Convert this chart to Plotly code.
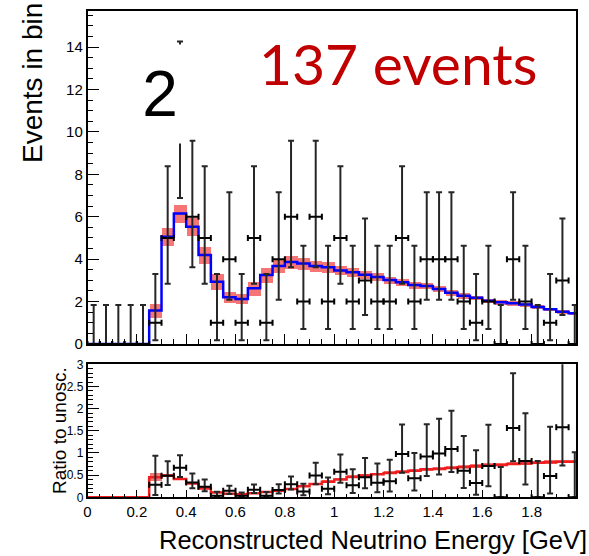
import math
import plotly.graph_objects as go

# Binning: 40 bins of 50 MeV from 0 to 2 GeV
bin_lo = 0.0
bin_width = 0.05
n_bins = 40

# Observed events per bin
counts = [0, 0, 0, 0, 0, 1, 5, 10, 6, 5,
          1, 4, 1, 5, 1, 4, 6, 2, 6, 2,
          5, 2, 3, 2, 2, 5, 2, 4, 4, 4,
          2, 1, 2, 0, 4, 2, 0, 1, 3, 0]

# Oscillated prediction per bin and its systematic half-width
prediction = [0, 0, 0, 0, 0, 1.58, 5.06, 6.16, 5.53, 4.20,
              2.94, 2.20, 2.12, 2.63, 3.25, 3.68, 3.87, 3.80, 3.68, 3.62,
              3.47, 3.38, 3.27, 3.16, 3.02, 2.91, 2.78, 2.74, 2.59, 2.42,
              2.28, 2.18, 2.04, 1.97, 1.92, 1.86, 1.75, 1.64, 1.52, 1.45]
pred_err = [0, 0, 0, 0, 0, 0.34, 0.41, 0.43, 0.43, 0.41,
            0.36, 0.25, 0.24, 0.33, 0.35, 0.32, 0.30, 0.28, 0.26, 0.24,
            0.22, 0.20, 0.19, 0.18, 0.17, 0.16, 0.15, 0.15, 0.14, 0.13,
            0.12, 0.11, 0.11, 0.10, 0.10, 0.09, 0.09, 0.08, 0.08, 0.07]

# Oscillated / unoscillated prediction per bin
osc_ratio = [0, 0, 0, 0, 0, 0.45, 0.49, 0.41, 0.31, 0.20,
             0.11, 0.08, 0.07, 0.09, 0.12, 0.15, 0.19, 0.25, 0.30, 0.35,
             0.40, 0.46, 0.49, 0.52, 0.55, 0.57, 0.60, 0.63, 0.64, 0.66,
             0.68, 0.70, 0.72, 0.73, 0.75, 0.76, 0.78, 0.79, 0.80, 0.80]

x_tick_values = [0, 0.2, 0.4, 0.6, 0.8, 1, 1.2, 1.4, 1.6, 1.8]
x_tick_labels = ["0", "0.2", "0.4", "0.6", "0.8", "1", "1.2", "1.4", "1.6", "1.8"]
ratio_tick_values = [0, 0.5, 1, 1.5, 2, 2.5, 3]
ratio_tick_labels = ["0", "0.5", "1", "1.5", "2", "2.5", "3"]

centers = [bin_lo + bin_width * (i + 0.5) for i in range(n_bins)]
left_edges = [bin_lo + bin_width * i for i in range(n_bins)]


def pois_cdf(k, mu):
    term = math.exp(-mu)
    total = term
    for i in range(1, k + 1):
        term *= mu / i
        total += term
    return total


def solve(f, target, lo, hi):
    # f decreasing in mu
    for _ in range(200):
        mid = 0.5 * (lo + hi)
        if f(mid) > target:
            lo = mid
        else:
            hi = mid
    return 0.5 * (lo + hi)


def garwood(n, cl=0.6827):
    a = 0.5 * (1 - cl)
    up = solve(lambda m: pois_cdf(n, m), a, 0.0, 100.0)
    low = 0.0 if n == 0 else solve(lambda m: pois_cdf(n - 1, m), 1 - a, 0.0, 100.0)
    return low, up


intervals = [garwood(n) for n in counts]
err_hi = [up - n for n, (lo, up) in zip(counts, intervals)]
err_lo = [n - lo for n, (lo, up) in zip(counts, intervals)]

# Ratio quantities relative to the unoscillated prediction
rx, ry, r_hi, r_lo = [], [], [], []
band_base, band_h = [], []
for i in range(n_bins):
    p, r = prediction[i], osc_ratio[i]
    if p > 0 and r > 0:
        unosc = p / r
        rx.append(centers[i])
        ry.append(counts[i] / unosc)
        r_hi.append(err_hi[i] / unosc)
        r_lo.append(err_lo[i] / unosc)
        e = r * pred_err[i] / p
    else:
        e = 0
    band_base.append(r - e)
    band_h.append(2 * e)

step_x = left_edges + [bin_lo + bin_width * n_bins]
step_pred = prediction + [prediction[-1]]
step_ratio = osc_ratio + [osc_ratio[-1]]

BAND = "rgb(246,118,118)"
DATA = "#262626"
FONT = "Liberation Sans, Arial, Helvetica, sans-serif"

fig = go.Figure()

# Upper panel
fig.add_trace(go.Bar(x=centers, y=[2 * e for e in pred_err],
                     base=[p - e for p, e in zip(prediction, pred_err)],
                     width=bin_width, marker=dict(color=BAND, line_width=0),
                     xaxis="x", yaxis="y", hoverinfo="skip"))
fig.add_trace(go.Scatter(x=step_x, y=step_pred, mode="lines",
                         line=dict(color="#0000ff", width=2.5, shape="hv"),
                         xaxis="x", yaxis="y"))
fig.add_trace(go.Scatter(x=centers, y=counts, mode="markers",
                         marker=dict(size=1, color=DATA),
                         error_y=dict(type="data", symmetric=False, array=err_hi,
                                      arrayminus=err_lo, color=DATA, thickness=2, width=3),
                         error_x=dict(type="constant", value=bin_width / 2,
                                      color="black", thickness=2, width=3),
                         xaxis="x", yaxis="y"))

# Lower panel
fig.add_trace(go.Bar(x=centers, y=band_h, base=band_base, width=bin_width,
                     marker=dict(color=BAND, line_width=0),
                     xaxis="x2", yaxis="y2", hoverinfo="skip"))
fig.add_trace(go.Scatter(x=step_x, y=step_ratio, mode="lines",
                         line=dict(color="rgb(240,30,30)", width=2.5, shape="hv"),
                         xaxis="x2", yaxis="y2"))
fig.add_trace(go.Scatter(x=rx, y=ry, mode="markers",
                         marker=dict(size=1, color=DATA),
                         error_y=dict(type="data", symmetric=False, array=r_hi,
                                      arrayminus=r_lo, color=DATA, thickness=2, width=3),
                         error_x=dict(type="constant", value=bin_width / 2,
                                      color="black", thickness=2, width=3),
                         xaxis="x2", yaxis="y2"))

W, H = 589, 556
px = lambda v: v / W
py = lambda v: 1 - v / H

x_dom = [px(87.5), px(576)]
axis_common = dict(showline=True, mirror=True, linecolor="black", linewidth=1.5,
                   showgrid=False, zeroline=False, ticks="inside", tickcolor="black",
                   automargin=False,
                   tickfont=dict(family=FONT, size=15, color="black"))

fig.update_layout(
    width=W, height=H, margin=dict(l=0, r=0, t=0, b=0, pad=0, autoexpand=False),
    paper_bgcolor="white", plot_bgcolor="white",
    showlegend=False, barmode="overlay", bargap=0,
    xaxis=dict(domain=x_dom, anchor="y", range=[0, 1.98], showticklabels=False,
               tickvals=x_tick_values, ticklen=10, tickwidth=1,
               minor=dict(dtick=0.05, tick0=0, ticks="inside", ticklen=5, tickcolor="black"),
               **axis_common),
    yaxis=dict(domain=[py(344), py(10.7)], anchor="x", range=[0, 15.72],
               tick0=0, dtick=2, ticklen=12, tickwidth=1,
               minor=dict(dtick=0.5, tick0=0, ticks="inside", ticklen=6, tickcolor="black"),
               **axis_common),
    xaxis2=dict(domain=x_dom, anchor="y2", range=[0, 1.98],
                tickvals=x_tick_values, ticktext=x_tick_labels, ticklen=8, tickwidth=1,
                minor=dict(dtick=0.05, tick0=0, ticks="inside", ticklen=4, tickcolor="black"),
                **axis_common),
    yaxis2=dict(domain=[py(497.3), py(364.3)], anchor="x2", range=[0, 3],
                tickvals=ratio_tick_values, ticktext=ratio_tick_labels,
                ticklen=12, tickwidth=1,
                minor=dict(dtick=0.1, tick0=0, ticks="inside", ticklen=6, tickcolor="black"),
                **{**axis_common, "tickfont": dict(family=FONT, size=12, color="black")}),
)

fig.add_annotation(text="Events in bin", textangle=-90, showarrow=False,
                   xref="paper", yref="paper", x=px(33), y=py(83),
                   xanchor="center", yanchor="middle",
                   font=dict(family=FONT, size=28, color="black"))
fig.add_annotation(text="Ratio to unosc.", textangle=-90, showarrow=False,
                   xref="paper", yref="paper", x=px(59), y=py(431),
                   xanchor="center", yanchor="middle",
                   font=dict(family=FONT, size=19, color="black"))
fig.add_annotation(text="Reconstructed Neutrino Energy [GeV]", showarrow=False,
                   xref="paper", yref="paper", x=px(589), y=py(540),
                   xanchor="right", yanchor="middle",
                   font=dict(family=FONT, size=25.5, color="black"))
fig.add_annotation(text="137 events", showarrow=False,
                   xref="paper", yref="paper", x=px(257), y=py(63),
                   xanchor="left", yanchor="middle",
                   font=dict(family="Lato, Open Sans, sans-serif", size=57, color="#c00000"))
fig.add_annotation(text="2", showarrow=False,
                   xref="paper", yref="paper", x=px(159.5), y=py(94.5),
                   xanchor="center", yanchor="middle", width=58, height=98,
                   bgcolor="white", borderpad=0,
                   font=dict(family=FONT, size=64, color="black"))

fig.write_html("out.html")
